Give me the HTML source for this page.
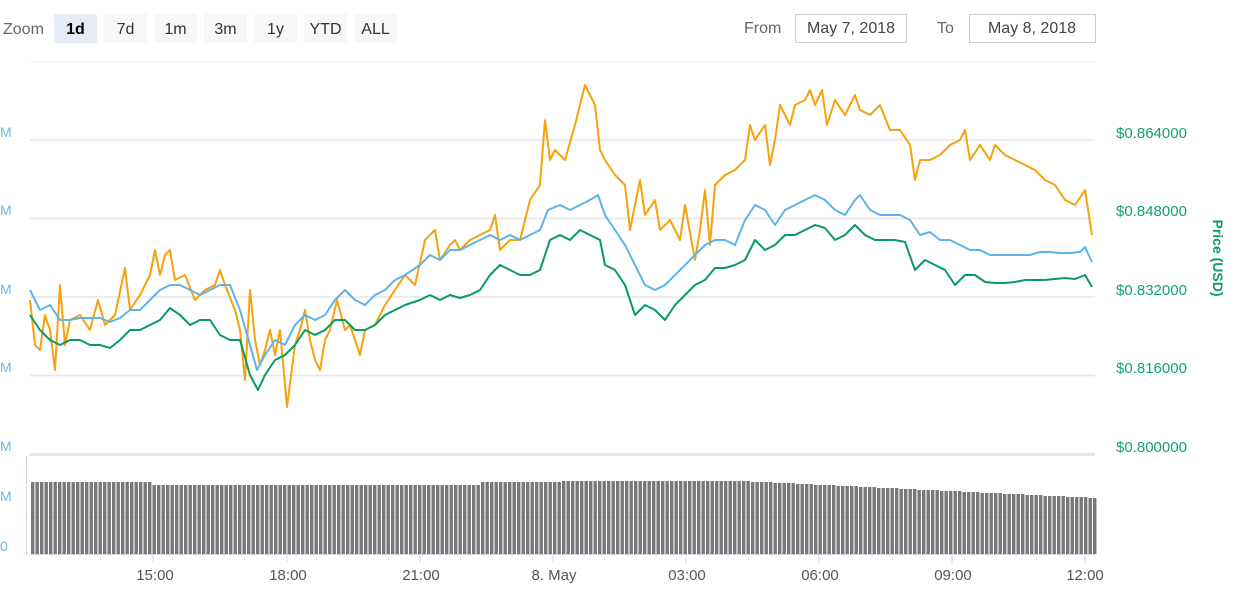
<!DOCTYPE html>
<html><head><meta charset="utf-8"><style>
body{margin:0;background:#fff;width:1234px;height:598px;overflow:hidden;font-family:"Liberation Sans",sans-serif}
svg text{font-family:"Liberation Sans",sans-serif}
</style></head><body>
<svg width="1234" height="598" viewBox="0 0 1234 598" xmlns="http://www.w3.org/2000/svg">
<text x="3" y="34" font-size="16" fill="#666">Zoom</text>
<rect x="54" y="14" width="43" height="29" rx="2" fill="#e6ebf5"/>
<text x="75.5" y="34" font-size="16" font-weight="bold" fill="#000" text-anchor="middle">1d</text>
<g fill="#f7f7f7"><rect x="104" y="14" width="43" height="29" rx="2"/><rect x="154" y="14" width="43" height="29" rx="2"/><rect x="204" y="14" width="43" height="29" rx="2"/><rect x="254" y="14" width="43" height="29" rx="2"/><rect x="304" y="14" width="43" height="29" rx="2"/><rect x="354" y="14" width="43" height="29" rx="2"/></g>
<g font-size="16" fill="#333" text-anchor="middle"><text x="125.5" y="34">7d</text><text x="175.5" y="34">1m</text><text x="225.5" y="34">3m</text><text x="275.5" y="34">1y</text><text x="325.5" y="34">YTD</text><text x="375.5" y="34">ALL</text></g>
<text x="744" y="33" font-size="16" fill="#666">From</text>
<rect x="795.5" y="14.5" width="111" height="28" fill="#fff" stroke="#ccc"/>
<text x="851" y="33" font-size="16" fill="#444" text-anchor="middle">May 7, 2018</text>
<text x="937" y="33" font-size="16" fill="#666">To</text>
<rect x="969.5" y="14.5" width="126" height="28" fill="#fff" stroke="#ccc"/>
<text x="1032" y="33" font-size="16" fill="#444" text-anchor="middle">May 8, 2018</text>
<line x1="30" y1="61.5" x2="1095" y2="61.5" stroke="#f0f0f0"/>
<g stroke="#e6e6e6" stroke-width="1.5"><line x1="30" y1="140" x2="1095" y2="140"/><line x1="30" y1="218.5" x2="1095" y2="218.5"/><line x1="30" y1="297" x2="1095" y2="297"/><line x1="30" y1="375.5" x2="1095" y2="375.5"/></g>
<rect x="30" y="453" width="1065" height="3" fill="#e6e6e6"/>
<line x1="30" y1="517.5" x2="1095" y2="517.5" stroke="#e6e6e6"/>
<g font-size="14" fill="#6cb6e8"><text x="0" y="137">M</text><text x="0" y="215">M</text><text x="0" y="294">M</text><text x="0" y="372">M</text><text x="0" y="451">M</text><text x="0" y="501">M</text><text x="0" y="551">0</text></g>
<g font-size="15" fill="#12a07a"><text x="1116" y="138">$0.864000</text><text x="1116" y="216">$0.848000</text><text x="1116" y="295">$0.832000</text><text x="1116" y="373">$0.816000</text><text x="1116" y="452">$0.800000</text></g>
<text transform="translate(1213,258) rotate(90)" font-size="14" font-weight="bold" fill="#0e9a6a" text-anchor="middle">Price (USD)</text>
<g id="vol" fill="#777"></g>
<line x1="26.5" y1="456" x2="26.5" y2="555" stroke="#ccd6eb"/>
<line x1="30" y1="554.5" x2="1095" y2="554.5" stroke="#ccd6eb"/>
<g stroke="#ccd6eb"><line x1="153" y1="555" x2="153" y2="563"/><line x1="287" y1="555" x2="287" y2="563"/><line x1="420" y1="555" x2="420" y2="563"/><line x1="553" y1="555" x2="553" y2="563"/><line x1="686" y1="555" x2="686" y2="563"/><line x1="819" y1="555" x2="819" y2="563"/><line x1="952" y1="555" x2="952" y2="563"/><line x1="1085" y1="555" x2="1085" y2="563"/></g>
<g font-size="15" fill="#555" text-anchor="middle"><text x="155" y="580">15:00</text><text x="288" y="580">18:00</text><text x="421" y="580">21:00</text><text x="554" y="580">8. May</text><text x="687" y="580">03:00</text><text x="820" y="580">06:00</text><text x="953" y="580">09:00</text><text x="1085" y="580">12:00</text></g>
<g fill="none" stroke-width="2" stroke-linejoin="round">
<polyline stroke="#f7a10b" points="30,300 35,345 40,350 45,315 50,330 55,370 60,285 65,345 70,320 80,315 90,330 98,300 105,325 115,315 125,268 130,310 140,295 150,275 155,250 160,275 165,255 170,250 175,280 185,275 195,300 205,290 215,285 220,270 225,285 235,310 240,330 245,380 250,290 255,340 260,365 265,350 270,330 275,355 280,330 287,407 295,345 300,330 305,310 310,340 315,360 320,370 325,340 330,330 337,300 345,330 350,325 355,340 360,355 365,330 375,325 385,305 395,290 405,275 415,285 425,240 435,230 440,260 450,245 455,240 460,250 470,240 480,235 490,230 495,215 500,250 510,240 520,240 530,200 540,185 545,120 550,160 555,150 565,160 575,125 585,85 595,105 600,150 605,160 615,175 625,185 630,230 640,180 645,215 655,200 660,230 670,220 680,240 685,205 695,260 700,230 705,190 710,245 715,185 725,175 735,170 745,160 750,125 755,140 765,125 770,165 775,140 780,105 790,125 795,105 805,100 810,90 815,105 822,90 827,125 835,100 845,115 855,95 860,110 870,115 880,105 890,130 900,130 910,145 915,180 920,160 930,160 940,155 950,145 960,140 965,130 970,160 980,145 990,160 995,145 1005,155 1015,160 1025,165 1035,170 1045,180 1055,185 1065,200 1075,205 1085,190 1092,235"/>
<polyline stroke="#5eb3e8" points="30,290 40,310 50,305 60,320 70,320 80,318 90,318 100,318 110,322 120,318 130,310 140,310 150,300 160,290 170,285 180,285 190,290 200,295 210,290 220,285 230,285 240,310 250,345 257,370 265,355 275,340 285,345 295,325 305,315 315,320 325,315 335,300 345,290 355,300 365,305 375,295 385,290 395,280 405,275 420,265 430,255 440,260 450,250 460,250 470,245 480,240 490,235 500,240 510,235 520,240 530,235 540,230 548,210 560,205 570,210 580,205 590,200 598,195 605,215 615,230 625,245 635,265 645,285 655,290 665,285 675,275 685,265 695,255 705,245 715,240 725,240 735,245 745,220 755,205 765,210 775,225 785,210 795,205 805,200 815,195 825,200 835,210 845,215 855,200 860,195 870,210 880,215 890,215 900,215 910,220 920,235 930,232 940,240 950,240 960,245 970,250 980,250 990,255 1000,255 1010,255 1020,255 1030,255 1040,252 1050,252 1060,253 1070,253 1080,252 1085,247 1092,262"/>
<polyline stroke="#0a9a63" points="30,315 40,330 50,340 60,345 70,340 80,340 90,345 100,345 110,348 120,340 130,330 140,330 150,325 160,320 170,308 180,315 190,325 200,320 210,320 220,335 230,340 240,340 250,375 258,390 265,375 275,360 285,355 295,345 305,330 315,335 325,330 335,320 345,320 355,330 365,330 375,325 385,315 395,310 405,305 420,300 430,295 440,300 450,295 460,298 470,295 480,290 490,275 500,265 510,270 520,275 530,275 540,270 550,240 560,235 570,240 580,230 590,235 600,240 605,265 615,270 625,285 635,315 645,305 655,310 665,320 675,305 685,295 695,285 705,280 715,268 725,268 735,265 745,260 755,240 765,250 775,245 785,235 795,235 805,230 815,225 825,228 835,240 845,235 855,225 865,235 875,240 885,240 895,240 905,242 915,270 925,260 935,265 945,270 955,285 965,275 975,275 985,282 995,283 1005,283 1015,282 1025,280 1035,280 1045,280 1055,279 1065,278 1075,279 1085,275 1092,287"/>
</g>
</svg>
<script>
var g=document.getElementById('vol'),s='';
function vtop(x){if(x<150)return 482;if(x<480)return 485;if(x<560)return 482;if(x<740)return 481;if(x<1095)return 481+(x-740)/(1095-740)*17;return 498;}
for(var x=31;x<1094;x+=4.5){var t=Math.round(vtop(x));s+='<rect x="'+x.toFixed(1)+'" y="'+t+'" width="3.4" height="'+(554-t)+'"/>';}
g.innerHTML=s;
</script>
</body></html>
